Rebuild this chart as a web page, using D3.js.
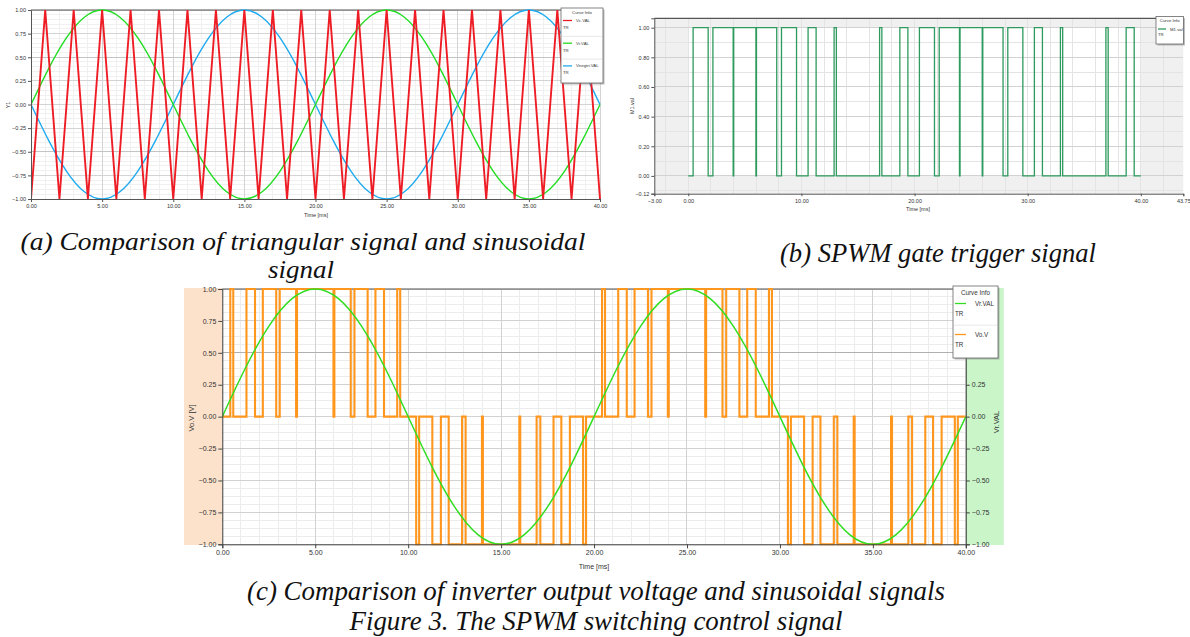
<!DOCTYPE html>
<html>
<head>
<meta charset="utf-8">
<script src="https://cdn.jsdelivr.net/npm/d3@7"></script>
<style>
  body { margin: 0; background: #fff; }
  svg { display: block; }
</style>
</head>
<body>
<svg id="fig" width="1190" height="637"></svg>
<script>
// ---------- signal data (time in ms) ----------
// reference sine Vr (50 Hz), sampled every 1.25 ms
const sineT = [0,1.25,2.5,3.75,5,6.25,7.5,8.75,10,11.25,12.5,13.75,15,16.25,17.5,18.75,
               20,21.25,22.5,23.75,25,26.25,27.5,28.75,30,31.25,32.5,33.75,35,36.25,37.5,38.75,40];
const sineV = [0,0.383,0.707,0.924,1,0.924,0.707,0.383,0,-0.383,-0.707,-0.924,-1,-0.924,-0.707,-0.383,
               0,0.383,0.707,0.924,1,0.924,0.707,0.383,0,-0.383,-0.707,-0.924,-1,-0.924,-0.707,-0.383,0];
// inverted reference
const negV  = [0,-0.383,-0.707,-0.924,-1,-0.924,-0.707,-0.383,0,0.383,0.707,0.924,1,0.924,0.707,0.383,
               0,-0.383,-0.707,-0.924,-1,-0.924,-0.707,-0.383,0,0.383,0.707,0.924,1,0.924,0.707,0.383,0];
// triangular carrier Vc (500 Hz) corner points
const carrierT = [0,1,2,3,4,5,6,7,8,9,10,11,12,13,14,15,16,17,18,19,20,
                  21,22,23,24,25,26,27,28,29,30,31,32,33,34,35,36,37,38,39,40];
const carrierV = [-1,1,-1,1,-1,1,-1,1,-1,1,-1,1,-1,1,-1,1,-1,1,-1,1,-1,
                  1,-1,1,-1,1,-1,1,-1,1,-1,1,-1,1,-1,1,-1,1,-1,1,-1];
// gate trigger M1: on / off instants
const gateOn  = [0.43,2.18,4.02,6.03,8.24,10.59,12.89,16.91,18.70,
                 20.43,22.18,24.02,26.03,28.24,30.59,32.89,36.91,38.70];
const gateOff = [1.76,3.97,5.98,7.82,9.57,11.30,13.09,17.11,19.41,
                 21.76,23.97,25.98,27.82,29.57,31.30,33.09,37.11,39.41];
// inverter output Vo: pulse start / end / level
const voOn  = [0.43,1.30,2.18,3.09,4.02,6.03,7.11,8.24,9.41,
               10.43,11.30,12.18,13.09,14.02,16.03,17.11,18.24,19.41,
               20.43,21.30,22.18,23.09,24.02,26.03,27.11,28.24,29.41,
               30.43,31.30,32.18,33.09,34.02,36.03,37.11,38.24,39.41];
const voOff = [0.59,1.76,2.90,3.97,5.98,6.91,7.82,8.70,9.57,
               10.59,11.76,12.90,13.97,15.98,16.91,17.82,18.70,19.57,
               20.59,21.76,22.90,23.97,25.98,26.91,27.82,28.70,29.57,
               30.59,31.76,32.90,33.97,35.98,36.91,37.82,38.70,39.57];
const voLevel = [1,1,1,1,1,1,1,1,1, -1,-1,-1,-1,-1,-1,-1,-1,-1,
                 1,1,1,1,1,1,1,1,1, -1,-1,-1,-1,-1,-1,-1,-1,-1];
// axis tick labels
const ticksA_x = [0,5,10,15,20,25,30,35,40];
const ticksA_y = [-1,-0.75,-0.5,-0.25,0,0.25,0.5,0.75,1];
const ticksB_x = [-3,0,10,20,30,40,43.75];
const ticksB_y = [-0.12,0,0.2,0.4,0.6,0.8,1];
const ticksC_x = [0,5,10,15,20,25,30,35,40];
const ticksC_y = [-1,-0.75,-0.5,-0.25,0,0.25,0.5,0.75,1];
const ticksC_yRight = [-1,-0.75,-0.5,-0.25,0,0.25];

// ---------- helpers ----------
const svg = d3.select("#fig");
svg.append("rect").attr("width", 1190).attr("height", 637).attr("fill", "#fff");
const fmt = d3.format(".2f");
const SANS = "'Liberation Sans', Arial, sans-serif";
const SERIF = "'Liberation Serif', 'Times New Roman', serif";

function steps(a, b, s) {
  const r = [];
  for (let i = 0; a + i * s <= b + 1e-9; i++) r.push(+(a + i * s).toFixed(6));
  return r;
}
function grid(g, x, y, xs, ys, color, w) {
  const [xa, xb] = x.range(), [ya, yb] = y.range();
  g.selectAll(null).data(xs).join("line")
    .attr("x1", d => x(d)).attr("x2", d => x(d)).attr("y1", ya).attr("y2", yb)
    .attr("stroke", color).attr("stroke-width", w || 1).attr("shape-rendering", "crispEdges");
  g.selectAll(null).data(ys).join("line")
    .attr("y1", d => y(d)).attr("y2", d => y(d)).attr("x1", xa).attr("x2", xb)
    .attr("stroke", color).attr("stroke-width", w || 1).attr("shape-rendering", "crispEdges");
}
function styleAxis(sel, size, color) {
  sel.selectAll("text").attr("font-family", SANS).attr("font-size", size).attr("fill", "#333");
  sel.selectAll("line").attr("stroke", color || "#555");
  sel.select(".domain").attr("stroke", color || "#555");
}
function stepPoints(on, off, lvl, t0, t1) {
  const pts = [[t0, 0]];
  on.forEach((s, i) => {
    const L = lvl ? lvl[i] : 1;
    pts.push([s, 0], [s, L], [off[i], L], [off[i], 0]);
  });
  pts.push([t1, 0]);
  return pts;
}
function legend(g, o) {
  g.append("rect").attr("x", o.x + 1.5).attr("y", o.y + 1.5).attr("width", o.w).attr("height", o.h)
    .attr("fill", "#888").attr("opacity", 0.55);
  g.append("rect").attr("x", o.x).attr("y", o.y).attr("width", o.w).attr("height", o.h)
    .attr("fill", "#fff").attr("stroke", "#666").attr("stroke-width", 0.8);
  g.append("text").attr("x", o.x + o.w / 2).attr("y", o.titleY).attr("text-anchor", "middle")
    .attr("font-family", SANS).attr("font-size", o.fs).attr("fill", "#333").text("Curve Info");
  o.entries.forEach((e, i) => {
    const cy = o.firstY + i * o.rowH;
    if (i > 0) {
      g.append("line").attr("x1", o.x + 1).attr("x2", o.x + o.w - 1)
        .attr("y1", cy - o.rowH * 0.3).attr("y2", cy - o.rowH * 0.3)
        .attr("stroke", "#e2e2e2").attr("stroke-width", 0.8);
    }
    g.append("line").attr("x1", o.x + 2).attr("x2", o.x + 2 + o.lineLen).attr("y1", cy).attr("y2", cy)
      .attr("stroke", e.color).attr("stroke-width", 1.3);
    g.append("text").attr("x", o.x + o.textDx).attr("y", cy + o.fs * 0.35)
      .attr("font-family", SANS).attr("font-size", o.fs).attr("fill", "#333").text(e.name);
    g.append("text").attr("x", o.x + 2).attr("y", cy + o.trDy)
      .attr("font-family", SANS).attr("font-size", o.fs).attr("fill", "#333").text("TR");
  });
}
function caption(x, y, txt, size, len) {
  const t = svg.append("text").attr("x", x).attr("y", y).attr("text-anchor", "middle")
    .attr("font-family", SERIF).attr("font-style", "italic").attr("font-size", size)
    .attr("fill", "#111").text(txt);
  if (len) t.attr("textLength", len).attr("lengthAdjust", "spacingAndGlyphs");
}

// ================= (a) carrier vs reference =================
{
  const g = svg.append("g");
  const x = d3.scaleLinear().domain([0, 40]).range([31, 600]);
  const y = d3.scaleLinear().domain([-1, 1]).range([199, 10]);
  grid(g, x, y, steps(0, 40, 1), steps(-1, 1, 0.05), "#f0f0f0");
  grid(g, x, y, ticksA_x, ticksA_y, "#d4d4d4");
  grid(g, x, y, [], [-0.5, 0.5], "#c4c4c4");
  g.append("line").attr("x1", 31).attr("x2", 600).attr("y1", 10).attr("y2", 10)
    .attr("stroke", "#555").attr("stroke-width", 1.2);

  g.append("clipPath").attr("id", "clipA").append("rect")
    .attr("x", 31).attr("y", 9).attr("width", 570).attr("height", 191);
  const plot = g.append("g").attr("clip-path", "url(#clipA)");
  const line = d3.line().x(d => x(d[0])).y(d => y(d[1]));
  const sine = d3.line().x(d => x(d[0])).y(d => y(d[1])).curve(d3.curveNatural);
  plot.append("path").datum(sineT.map((t, i) => [t, negV[i]])).attr("d", sine)
    .attr("fill", "none").attr("stroke", "#1eaaf0").attr("stroke-width", 1.4);
  plot.append("path").datum(sineT.map((t, i) => [t, sineV[i]])).attr("d", sine)
    .attr("fill", "none").attr("stroke", "#22dd22").attr("stroke-width", 1.4);
  plot.append("path").datum(carrierT.map((t, i) => [t, carrierV[i]])).attr("d", line)
    .attr("fill", "none").attr("stroke", "#ee1c25").attr("stroke-width", 1.9);

  const xa = g.append("g").attr("transform", "translate(0,199)");
  xa.call(d3.axisBottom(x).tickValues(steps(0, 40, 1)).tickSize(1.5).tickFormat(""));
  xa.call(d3.axisBottom(x).tickValues(ticksA_x).tickSize(3).tickPadding(2).tickFormat(fmt));
  styleAxis(xa, 5.5);
  const ya = g.append("g").attr("transform", "translate(31,0)");
  ya.call(d3.axisLeft(y).tickValues(steps(-1, 1, 0.05)).tickSize(1.5).tickFormat(""));
  ya.call(d3.axisLeft(y).tickValues(ticksA_y).tickSize(3).tickPadding(2).tickFormat(fmt));
  styleAxis(ya, 5.5);
  g.append("text").attr("transform", "translate(10,105) rotate(-90)").attr("text-anchor", "middle")
    .attr("font-family", SANS).attr("font-size", 5.5).attr("fill", "#333").text("Y1");
  g.append("text").attr("x", 316).attr("y", 217).attr("text-anchor", "middle")
    .attr("font-family", SANS).attr("font-size", 5.5).attr("fill", "#333").text("Time [ms]");

  legend(g, { x: 561, y: 8, w: 42, h: 75, fs: 4.3, titleY: 14, firstY: 20.5, rowH: 22.7,
    lineLen: 9, textDx: 15, trDy: 8.5,
    entries: [{ name: "Vc.VAL", color: "#ee1c25" }, { name: "Vr.VAL", color: "#22dd22" },
              { name: "Vnegtri.VAL", color: "#1eaaf0" }] });
}

// ================= (b) gate trigger signal =================
{
  const g = svg.append("g");
  const x = d3.scaleLinear().domain([-3, 43.75]).range([654.3, 1183.3]);
  const y = d3.scaleLinear().domain([-0.12, 1.0635]).range([193.7, 18.3]);
  g.append("rect").attr("x", 654.3).attr("y", 18.3).attr("width", 529).attr("height", 175.4).attr("fill", "#f0f0f0");
  g.append("rect").attr("x", x(0)).attr("y", y(1)).attr("width", x(40) - x(0)).attr("height", y(0) - y(1)).attr("fill", "#fff");
  grid(g, x, y, steps(-2, 42, 2), steps(-0.1, 1.0, 0.1), "#e4e4e4");
  grid(g, x, y, [], [0, 0.2, 0.4, 0.6, 0.8, 1], "#d2d2d2");
  g.append("line").attr("x1", 654.3).attr("x2", 1183.3).attr("y1", 18.3).attr("y2", 18.3)
    .attr("stroke", "#555").attr("stroke-width", 1.2);

  const line = d3.line().x(d => x(d[0])).y(d => y(d[1]));
  g.append("path").datum(stepPoints(gateOn, gateOff, null, 0, 40)).attr("d", line)
    .attr("fill", "none").attr("stroke", "#2e9a5e").attr("stroke-width", 1.3);

  const xa = g.append("g").attr("transform", "translate(0,193.7)");
  xa.call(d3.axisBottom(x).tickValues(steps(-2, 42, 2)).tickSize(2.5).tickFormat(""));
  xa.call(d3.axisBottom(x).tickValues(ticksB_x).tickSize(2.5).tickPadding(3).tickFormat(fmt));
  styleAxis(xa, 5.5);
  const ya = g.append("g").attr("transform", "translate(654.3,0)");
  ya.call(d3.axisLeft(y).tickValues(steps(-0.1, 1.0, 0.1)).tickSize(1.5).tickFormat(""));
  ya.call(d3.axisLeft(y).tickValues(ticksB_y).tickSize(3).tickPadding(2).tickFormat(fmt));
  styleAxis(ya, 5.5);
  g.append("text").attr("transform", "translate(634,106) rotate(-90)").attr("text-anchor", "middle")
    .attr("font-family", SANS).attr("font-size", 5.5).attr("fill", "#333").text("M1.val");
  g.append("text").attr("x", 918).attr("y", 211).attr("text-anchor", "middle")
    .attr("font-family", SANS).attr("font-size", 5.5).attr("fill", "#333").text("Time [ms]");

  legend(g, { x: 1156, y: 16.5, w: 27.5, h: 27.5, fs: 4.3, titleY: 22, firstY: 29, rowH: 10,
    lineLen: 8, textDx: 14, trDy: 7,
    entries: [{ name: "M1.val", color: "#2e9a5e" }] });
}

// ================= (c) output voltage vs reference =================
{
  const g = svg.append("g");
  const x = d3.scaleLinear().domain([0, 40]).range([222.3, 965.8]);
  const y = d3.scaleLinear().domain([-1, 1]).range([544.3, 289]);
  g.append("rect").attr("x", 184).attr("y", 288).attr("width", 38.3).attr("height", 257).attr("fill", "#fde2cb");
  g.append("rect").attr("x", 965.8).attr("y", 288).attr("width", 38).attr("height", 257).attr("fill", "#c9f5c9");
  grid(g, x, y, steps(0, 40, 1), steps(-1, 1, 0.0625), "#ececec");
  grid(g, x, y, ticksC_x, ticksC_y, "#d2d2d2");
  grid(g, x, y, [], [0.5], "#b0b0b0");
  g.append("line").attr("x1", 222.3).attr("x2", 965.8).attr("y1", 289).attr("y2", 289)
    .attr("stroke", "#555").attr("stroke-width", 1.2);

  g.append("clipPath").attr("id", "clipC").append("rect")
    .attr("x", 222.3).attr("y", 287).attr("width", 743.5).attr("height", 259);
  const plot = g.append("g").attr("clip-path", "url(#clipC)");
  const line = d3.line().x(d => x(d[0])).y(d => y(d[1]));
  const sine = d3.line().x(d => x(d[0])).y(d => y(d[1])).curve(d3.curveNatural);
  plot.append("path").datum(stepPoints(voOn, voOff, voLevel, 0, 40)).attr("d", line)
    .attr("fill", "none").attr("stroke", "#ff961e").attr("stroke-width", 2.1);
  plot.append("path").datum(sineT.map((t, i) => [t, sineV[i]])).attr("d", sine)
    .attr("fill", "none").attr("stroke", "#33dd22").attr("stroke-width", 1.5);

  const xa = g.append("g").attr("transform", "translate(0,544.3)");
  xa.call(d3.axisBottom(x).tickValues(steps(0, 40, 1)).tickSize(2).tickFormat(""));
  xa.call(d3.axisBottom(x).tickValues(ticksC_x).tickSize(4).tickPadding(2).tickFormat(fmt));
  styleAxis(xa, 7, "#444");
  const ya = g.append("g").attr("transform", "translate(222.3,0)");
  ya.call(d3.axisLeft(y).tickValues(steps(-1, 1, 0.05)).tickSize(2).tickFormat(""));
  ya.call(d3.axisLeft(y).tickValues(ticksC_y).tickSize(4).tickPadding(2).tickFormat(fmt));
  styleAxis(ya, 7, "#444");
  const yr = g.append("g").attr("transform", "translate(965.8,0)");
  yr.call(d3.axisRight(y).tickValues(steps(-1, 1, 0.05)).tickSize(2).tickFormat(""));
  yr.call(d3.axisRight(y).tickValues(ticksC_yRight).tickSize(4).tickPadding(2).tickFormat(fmt));
  styleAxis(yr, 7, "#444");
  g.append("text").attr("transform", "translate(194,418) rotate(-90)").attr("text-anchor", "middle")
    .attr("font-family", SANS).attr("font-size", 7.5).attr("fill", "#333").text("Vo.V [V]");
  g.append("text").attr("transform", "translate(999,422) rotate(-90)").attr("text-anchor", "middle")
    .attr("font-family", SANS).attr("font-size", 7.5).attr("fill", "#333").text("Vr.VAL");
  g.append("text").attr("x", 594).attr("y", 569).attr("text-anchor", "middle")
    .attr("font-family", SANS).attr("font-size", 7).attr("fill", "#333").text("Time [ms]");

  legend(g, { x: 953, y: 286, w: 45, h: 72, fs: 6.3, titleY: 295, firstY: 303.5, rowH: 31,
    lineLen: 11, textDx: 22, trDy: 12,
    entries: [{ name: "Vr.VAL", color: "#33dd22" }, { name: "Vo.V", color: "#ff961e" }] });
}

// ================= captions =================
caption(303, 250, "(a) Comparison of triangular signal and sinusoidal", 25, 565);
caption(301, 278, "signal", 25, 66);
caption(938, 262, "(b) SPWM gate trigger signal", 26.5, 316);
caption(596, 600, "(c) Comparison of inverter output voltage and sinusoidal signals", 26.5, 698);
caption(596, 630, "Figure 3. The SPWM switching control signal", 26.5, 493);
</script>
</body>
</html>
